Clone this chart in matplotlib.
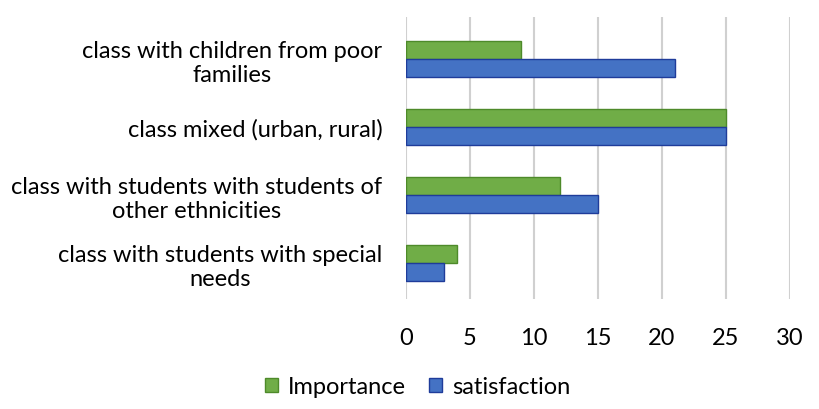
import matplotlib.pyplot as plt
import numpy as np

categories = ["class with children from poor\nfamilies",
              "class mixed (urban, rural)",
              "class with students with students of\nother ethnicities",
              "class with students with special\nneeds"]
importance = [9, 25, 12, 4]
satisfaction = [21, 25, 15, 3]

plt.rcParams['font.family'] = ['Lato', 'DejaVu Sans']

fig = plt.figure(figsize=(8.19, 4.10), dpi=100)
ax = fig.add_axes([406 / 819, 1 - 300 / 410, 384 / 819, 282 / 410])

y = np.arange(len(categories))
h = 0.265
ax.barh(y - h / 2, importance, height=h, color="#70AD47", edgecolor="#4E8A2A",
        linewidth=1, label="Importance", zorder=3)
ax.barh(y + h / 2, satisfaction, height=h, color="#4472C4", edgecolor="#1F3C9A",
        linewidth=1, label="satisfaction", zorder=3)

ax.set_xlim(0, 30)
ax.set_xticks(range(0, 31, 5))
ax.set_ylim(3.529, -0.618)
ax.set_yticks(y)
ax.set_yticklabels(categories, multialignment="center")
ax.tick_params(axis="both", length=0, labelsize=17, colors="#000000")
ax.tick_params(axis="y", pad=17)
ax.tick_params(axis="x", pad=20)
ax.grid(axis="x", color="#D0D0D0", linewidth=1.5, zorder=0)
for s in ax.spines.values():
    s.set_visible(False)

fig.legend(loc="center", bbox_to_anchor=(0.51, 1 - 388 / 410), ncol=2, frameon=False,
           fontsize=17, handlelength=0.55, handleheight=0.55, columnspacing=1.0,
           handletextpad=0.4)

fig.savefig("out.png", dpi=100)
